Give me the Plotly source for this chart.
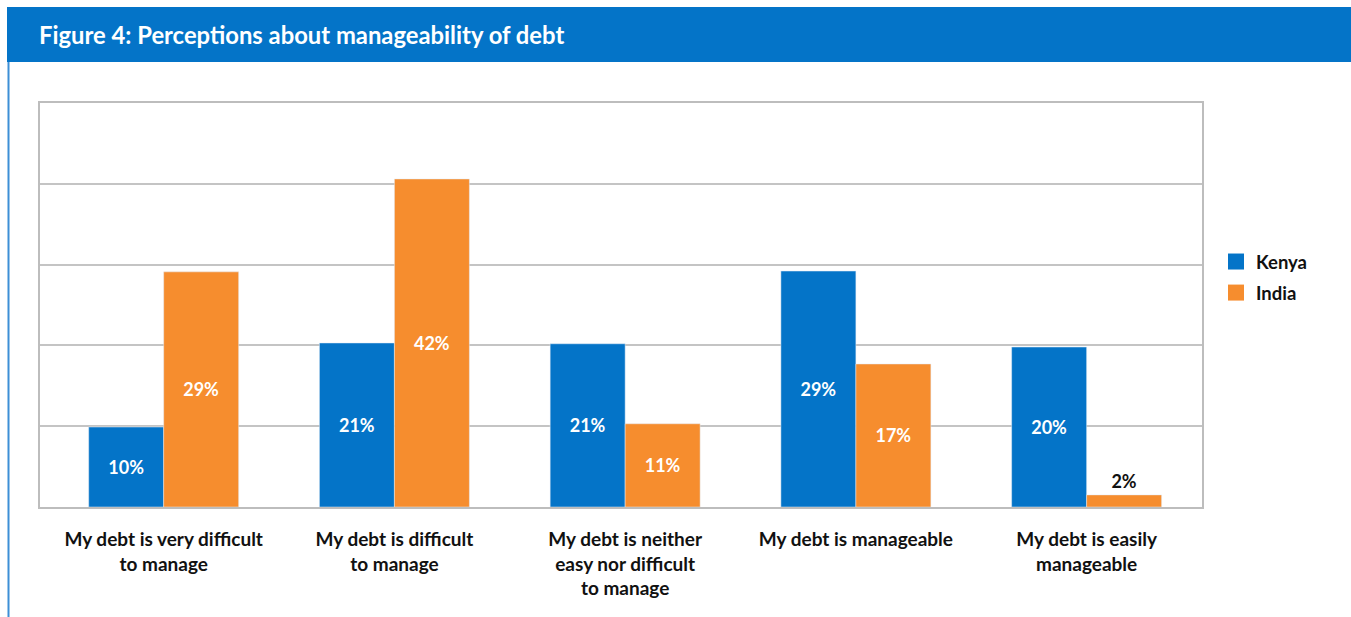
import plotly.graph_objects as go

categories = [
    "My debt is very difficult<br>to manage",
    "My debt is difficult<br>to manage",
    "My debt is neither<br>easy nor difficult<br>to manage",
    "My debt is manageable",
    "My debt is easily<br>manageable",
]
kenya_values = [9.9, 20.3, 20.2, 29.2, 19.8]
india_values = [29.1, 40.6, 10.3, 17.7, 1.5]
kenya_labels = ["10%", "21%", "21%", "29%", "20%"]
india_labels = ["29%", "42%", "11%", "17%", "2%"]

BLUE = "#0474c8"
ORANGE = "#f68d2e"
FONT = "Lato"

W, H = 1351, 617
L, R, T, B = 40, 1202, 103, 507


def px_x(p):
    return (p - L) / (R - L)


def px_y(p):
    return (B - p) / (B - T)


fig = go.Figure()
fig.add_trace(go.Bar(
    x=categories, y=kenya_values, name="Kenya", marker_color=BLUE,
    text=kenya_labels, textposition="auto", insidetextanchor="middle",
    textfont=dict(family=FONT, size=18, color="white", weight="bold"),
    outsidetextfont=dict(family=FONT, size=18, color="#111111", weight="bold"),
    showlegend=False, cliponaxis=False,
))
fig.add_trace(go.Bar(
    x=categories, y=india_values, name="India", marker_color=ORANGE,
    text=india_labels, textposition=["inside", "inside", "inside", "inside", "outside"],
    insidetextanchor="middle",
    textfont=dict(family=FONT, size=18, color="white", weight="bold"),
    outsidetextfont=dict(family=FONT, size=18, color="#111111", weight="bold"),
    showlegend=False, cliponaxis=False,
))
# legend entries
for name, col in [("Kenya", BLUE), ("India", ORANGE)]:
    fig.add_trace(go.Scatter(
        x=[None], y=[None], mode="markers", name=name, legendgroup=name,
        marker=dict(symbol="square", size=17, color=col),
        showlegend=True,
    ))

shapes = [
    # title bar
    dict(type="rect", xref="paper", yref="paper",
         x0=px_x(7), x1=px_x(1360), y0=px_y(62), y1=px_y(7),
         fillcolor=BLUE, line=dict(width=0), layer="below"),
    # left border line
    dict(type="line", xref="paper", yref="paper",
         x0=px_x(8.5), x1=px_x(8.5), y0=px_y(62), y1=px_y(620),
         line=dict(color="#3d8fd6", width=2)),
]

fig.update_layout(
    width=W, height=H,
    margin=dict(l=L, r=W - R, t=T, b=H - B, pad=0),
    paper_bgcolor="white", plot_bgcolor="white",
    barmode="group", bargap=0.35, bargroupgap=0,
    font=dict(family=FONT, color="#111111"),
    shapes=shapes,
    annotations=[dict(
        text="<b>Figure 4: Perceptions about manageability of debt</b>",
        xref="paper", yref="paper", x=px_x(37), y=px_y(35),
        xanchor="left", yanchor="middle", showarrow=False,
        font=dict(family=FONT, size=23.8, color="white"),
    )],
    legend=dict(
        x=px_x(1216), y=px_y(243), xanchor="left", yanchor="top",
        font=dict(family=FONT, size=18.5, color="#111111", weight="bold"),
        bgcolor="rgba(0,0,0,0)", itemsizing="trace", tracegroupgap=4,
    ),
    xaxis=dict(
        type="category", range=[-0.536, 4.5],
        showgrid=False, showline=True, linecolor="#bdbdbd", linewidth=2, mirror=True,
        tickfont=dict(family=FONT, size=19, color="#111111", weight="bold"),
        ticks="", ticklabelstandoff=14, fixedrange=True,
    ),
    yaxis=dict(
        range=[0, 50], dtick=10, showgrid=True, gridcolor="#c4c4c4", gridwidth=1.5,
        showline=True, linecolor="#bdbdbd", linewidth=2, mirror=True,
        showticklabels=False, ticks="", zeroline=False, fixedrange=True,
    ),
)

fig.write_html("out.html", config={"displayModeBar": False},
               post_script="document.body.style.margin='0';")
